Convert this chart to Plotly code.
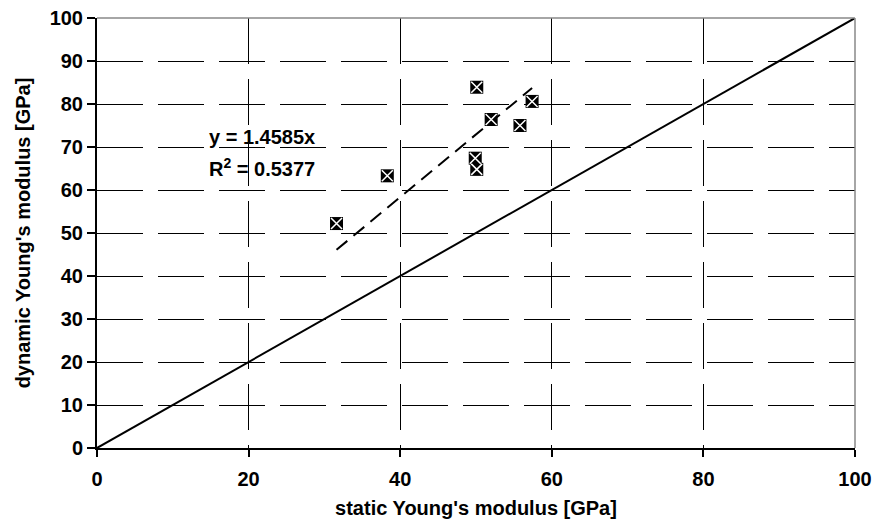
import plotly.graph_objects as go

# measured moduli (GPa)
static_E = [31.6, 38.3, 49.9, 50.1, 50.1, 52.0, 55.8, 57.4]
dynamic_E = [52.2, 63.3, 67.4, 64.8, 83.9, 76.4, 75.0, 80.6]

# regression through origin
slope = 1.4585
r_squared = 0.5377

diag = [0, 100]
fit_x = [min(static_E), max(static_E)]
fit_y = [slope * v for v in fit_x]

tick_vals_x = [0, 20, 40, 60, 80, 100]
tick_vals_y = [0, 10, 20, 30, 40, 50, 60, 70, 80, 90, 100]

FONT = "Arial, Liberation Sans, sans-serif"

fig = go.Figure()

fig.add_trace(go.Scatter(
    x=diag, y=diag, mode="lines",
    line=dict(color="black", width=2), hoverinfo="skip"))

fig.add_trace(go.Scatter(
    x=fit_x, y=fit_y, mode="lines",
    line=dict(color="black", width=2, dash="14px,8px"), hoverinfo="skip"))

fig.add_trace(go.Scatter(
    x=static_E, y=dynamic_E, mode="markers",
    marker=dict(symbol="square", size=13, color="black", line=dict(width=0))))
fig.add_trace(go.Scatter(
    x=static_E, y=dynamic_E, mode="markers",
    marker=dict(symbol="x-thin-open", size=11, color="white",
                line=dict(color="white", width=1.5)), hoverinfo="skip"))

grid = dict(showgrid=True, gridcolor="black", gridwidth=1, griddash="46px,15px")

fig.update_xaxes(
    range=[0, 100], tickvals=tick_vals_x, **grid, automargin=False,
    showline=True, linecolor="black", linewidth=2,
    ticks="outside", ticklen=7, tickwidth=1.5, tickcolor="black",
    ticklabelstandoff=5, zeroline=False,
    tickfont=dict(family=FONT, size=20, color="black", weight="bold"),
    title=dict(text="<b>static Young's modulus [GPa]</b>",
               font=dict(family=FONT, size=20, color="black"), standoff=12))

fig.update_yaxes(
    range=[0, 100], tickvals=tick_vals_y, **grid, automargin=False,
    showline=True, linecolor="black", linewidth=2,
    ticks="outside", ticklen=8, tickwidth=1.5, tickcolor="black",
    zeroline=False,
    tickfont=dict(family=FONT, size=20, color="black", weight="bold"),
    title=dict(text="<b>dynamic Young's modulus [GPa]</b>",
               font=dict(family=FONT, size=20, color="black"), standoff=14))

# grey frame on the top and right sides
fig.add_shape(type="line", xref="paper", yref="paper", x0=0, x1=1, y0=1, y1=1,
              line=dict(color="#888888", width=1.5))
fig.add_shape(type="line", xref="paper", yref="paper", x0=1, x1=1, y0=0, y1=1,
              line=dict(color="#888888", width=1.5))

fig.add_annotation(x=14.5, y=72.3, xanchor="left", yanchor="middle",
                   text=f"<b>y = {slope}x</b>", showarrow=False,
                   font=dict(family=FONT, size=20, color="black"))
fig.add_annotation(x=14.5, y=65.3, xanchor="left", yanchor="middle",
                   text=f"<b>R<sup>2</sup> = {r_squared}</b>", showarrow=False,
                   font=dict(family=FONT, size=20, color="black"))

fig.update_layout(
    width=879, height=532,
    margin=dict(l=97, r=24, t=18, b=84),
    plot_bgcolor="white", paper_bgcolor="white",
    showlegend=False)

fig.write_html("out.html")
